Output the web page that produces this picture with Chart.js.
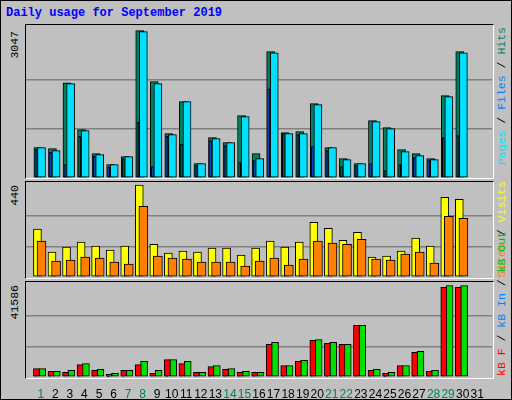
<!DOCTYPE html>
<html><head><meta charset="utf-8">
<script src="https://cdn.jsdelivr.net/npm/chart.js@4"></script>
<style>
body{margin:0;background:#fff}
#wrap{position:relative;width:512px;height:400px;background:#C0C0C0;box-sizing:border-box;border:1px solid #000;overflow:hidden}
.panel{position:absolute;left:24px;width:467px;box-sizing:content-box;border-top:1px solid #000;border-left:1px solid #000;border-right:1px solid #fff;border-bottom:1px solid #fff}
canvas{position:absolute}
.vt{position:absolute;writing-mode:vertical-rl;transform:rotate(180deg);font:11.5px "Liberation Mono","DejaVu Sans Mono",monospace;white-space:nowrap;line-height:14px}
#title{position:absolute;left:5px;top:5px;font:bold 12px "Liberation Mono",monospace;color:#0000FF}
</style></head><body>
<div id="wrap">
<div id="title">Daily usage for September 2019</div>
<div class="panel" style="top:23px;height:153px"></div>
<div class="panel" style="top:180px;height:96px"></div>
<div class="panel" style="top:280px;height:96px"></div>
<canvas id="c1" style="left:25px;top:24px"></canvas>
<canvas id="c2" style="left:25px;top:181px"></canvas>
<canvas id="c3" style="left:25px;top:281px"></canvas>
<div class="vt" style="left:7px;top:30px;color:#000">3047</div>
<div class="vt" style="left:7px;top:184px;color:#000">440</div>
<div class="vt" style="left:7px;top:284px;color:#000">41586</div>
<div class="vt" style="left:494px;top:26px"><span style="color:#00E0FF">Pages</span> / <span style="color:#0080FF">Files</span> / <span style="color:#008060">Hits</span></div>
<div class="vt" style="left:494px;top:180px"><span style="color:#FF8000">Sites</span> / <span style="color:#FFFF00">Visits</span></div>
<div class="vt" style="left:494px;bottom:23px"><span style="color:#FF0000">kB F</span> / <span style="color:#0080FF">kB In</span> / <span style="color:#00C000">kB Out</span></div>
</div>
<script>
const days=['1','2','3','4','5','6','7','8','9','10','11','12','13','14','15','16','17','18','19','20','21','22','23','24','25','26','27','28','29','30','31'];
const weekend=[1,7,8,14,15,21,22,28,29];
const hits=[627,606,1970,999,503,276,441,3047,1991,916,1578,296,834,730,1288,503,2611,937,958,1536,627,400,296,1185,1040,586,503,400,1702,2611,0];
const files=[627,565,1950,978,482,276,441,3025,1950,896,1578,296,813,730,1268,400,2590,916,916,1516,627,379,296,1164,1020,544,462,379,1681,2590,0];
const pages=[586,530,276,861,448,220,400,1150,234,861,696,255,772,668,317,358,1846,916,896,648,565,234,255,296,152,276,420,358,834,875,0];
const visits=[229,119,143,167,148,129,148,440,157,114,124,119,138,138,105,138,172,143,167,262,233,176,214,95,100,124,186,148,381,372,0];
const sites=[172,76,81,95,91,71,62,338,100,91,86,71,71,71,52,76,91,57,86,172,162,157,181,86,81,110,119,67,291,281,0];
const kbF=[3795,2580,2125,5617,3036,1214,3036,5617,1670,7894,6072,2125,4706,3491,2125,2125,14876,5161,7135,16698,15332,14876,23529,3036,1670,5161,11233,2580,40833,40833,0];
const kbIn=[300,250,450,300,250,150,300,500,350,300,550,250,300,250,250,250,500,300,300,300,300,300,300,250,200,300,300,250,600,600,0];
const kbOut=[3795,2580,3036,6072,3491,1670,3036,7135,3036,7894,7135,2125,5161,3795,2580,2125,15787,5161,7590,17002,15787,14876,23529,3491,2125,5161,11689,3036,41592,41592,0];
const peaks={c1:3047,c2:440,c3:41586};

const pts=(arr,off)=>arr.map((v,i)=>({x:i+off,y:v}));
const ds=(arr,off,w,color)=>({data:pts(arr,off),backgroundColor:color,borderColor:'#000',borderWidth:1,borderSkipped:false,barThickness:w,grouped:false});
function mk(id,datasets,top,withX){
  const peak=peaks[id];
  return new Chart(document.getElementById(id),{type:'bar',data:{datasets},
   options:{responsive:false,animation:false,devicePixelRatio:1,events:[],
    layout:{padding:0},
    plugins:{legend:{display:false},tooltip:{enabled:false}},
    scales:{
     x:{type:'linear',min:0,max:31,display:withX,grid:{display:false},border:{display:false},
        afterBuildTicks:a=>{a.ticks=days.map((d,i)=>({value:i+0.5}));},
        afterFit:a=>{a.height=withX?22:0;},
        ticks:{autoSkip:false,maxRotation:0,padding:2,font:{family:'Liberation Sans',size:12},
          callback:(v,i)=>days[i],
          color:c=>weekend.includes(c.index+1)?'#008060':'#000'}},
     y:{min:0,max:top,border:{display:false},
        afterBuildTicks:a=>{a.ticks=[{value:0},{value:peak/3},{value:2*peak/3}];},
        afterFit:a=>{a.width=0;},
        ticks:{display:false},grid:{drawTicks:false,lineWidth:1.5,color:c=>c.index===0?'rgba(0,0,0,0)':'#808080'}}
    }}});
}
function size(id,w,h){const c=document.getElementById(id);c.width=w;c.height=h;c.style.width=w+'px';c.style.height=h+'px';}
size('c1',466,153);size('c2',466,95);size('c3',466,117);
mk('c1',[ds(pages,0.17,2,'#0040FF'),ds(files,0.55,8,'#00E0FF'),ds(hits,0.3,8,'#008060')],3163,false);
mk('c2',[ds(sites,0.55,9,'#FF8000'),ds(visits,0.27,8,'#FFFF00')],455,false);
mk('c3',[ds(kbIn,0.15,2,'#0080FF'),ds(kbF,0.2,6,'#FF0000'),ds(kbOut,0.6,7,'#00E000')],43250,true);
</script>
</body></html>
